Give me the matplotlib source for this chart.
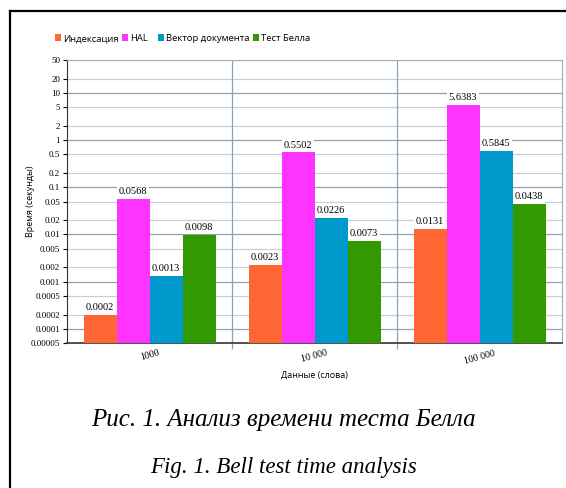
import numpy as np
import matplotlib.pyplot as plt

# data
groups = ['1000', '10 000', '100 000']
series = ['Индексация', 'HAL', 'Вектор документа', 'Тест Белла']
indexing = [0.0002, 0.0023, 0.0131]
hal = [0.0568, 0.5502, 5.6383]
doc_vector = [0.0013, 0.0226, 0.5845]
bell_test = [0.0098, 0.0073, 0.0438]
values = [indexing, hal, doc_vector, bell_test]
colors = ['#ff6633', '#ff33ff', '#0099cc', '#339900']
yticks = [0.00005, 0.0001, 0.0002, 0.0005, 0.001, 0.002, 0.005, 0.01, 0.02, 0.05,
          0.1, 0.2, 0.5, 1, 2, 5, 10, 20, 50]
ytick_labels = ['0.00005', '0.0001', '0.0002', '0.0005', '0.001', '0.002', '0.005',
                '0.01', '0.02', '0.05', '0.1', '0.2', '0.5', '1', '2', '5', '10', '20', '50']

sans = 'Open Sans'
serif = 'Liberation Serif'

fig = plt.figure(figsize=(5.66, 4.88), dpi=100)
ax = fig.add_axes([67/566, 1-343/488, 495/566, 283/488])

ymin = 0.00005
n = len(series)
w = 0.2
x = np.arange(len(groups))
bars = []
for i in range(n):
    pos = x - 0.4 + w*(i + 0.5)
    vals = np.array(values[i])
    b = ax.bar(pos, vals - ymin, bottom=ymin, width=w, color=colors[i], zorder=3,
               label=series[i])
    bars.append(b)
    for px, v in zip(pos, vals):
        ax.annotate(f'{v:.4f}', (px, v), xytext=(0, 2), textcoords='offset points',
                    ha='center', va='bottom', fontsize=7.5, family=serif, zorder=4,
                    bbox=dict(boxstyle='square,pad=0.15', fc='white', ec='none'))

ax.set_yscale('log')
ax.set_ylim(ymin, 50)
ax.set_xlim(-0.5, len(groups) - 0.5)
ax.set_yticks(yticks)
ax.set_yticklabels(ytick_labels, family=serif, fontsize=6.5)
ax.yaxis.set_minor_locator(plt.NullLocator())
for t in yticks:
    dec = abs(np.log10(t) - round(np.log10(t))) < 1e-6
    ax.axhline(t, color='#8fa0b8' if dec else '#c3d0e0', lw=0.9, zorder=1)
for bnd in [0.5, 1.5]:
    ax.axvline(bnd, color='#8fa0b8', lw=0.9, zorder=1)

ax.set_xticks(x)
ax.set_xticklabels(groups, rotation=15, family=serif, fontsize=7)
ax.set_xticks([0.5, 1.5], minor=True)
ax.tick_params(axis='x', which='major', length=0, pad=4)
ax.tick_params(axis='x', which='minor', length=4, color='#8fa0b8', width=0.9)
ax.tick_params(axis='y', length=3, width=0.8, pad=2)
ax.set_xlabel('Данные (слова)', family=sans, fontsize=6.5, labelpad=4)
ax.set_ylabel('Время (секунды)', family=sans, fontsize=6.5)
ax.yaxis.set_label_coords((35 - 67)/495, 0.5)

ax.spines['left'].set_color('#333333')
ax.spines['bottom'].set_color('#333333')
ax.spines['bottom'].set_linewidth(1.2)
ax.spines['top'].set_color('#aaaaaa')
ax.spines['right'].set_color('#aaaaaa')

leg_kw = dict(loc='upper left', ncol=2, frameon=False, prop={'family': sans, 'size': 6.8},
              handlelength=0.6, handleheight=0.8, columnspacing=0.3, handletextpad=0.3,
              borderaxespad=0, borderpad=0)
leg1 = fig.legend(bars[:2], series[:2], bbox_to_anchor=(55/566, 1-34/488), **leg_kw)
leg2 = fig.legend(bars[2:], series[2:], bbox_to_anchor=(158/566, 1-34/488), **leg_kw)

# document frame
fig.add_artist(plt.Line2D([10/566, 10/566], [0, 1-11/488], color='black', lw=1.6,
                          transform=fig.transFigure))
fig.add_artist(plt.Line2D([10/566, 1], [1-11/488, 1-11/488], color='black', lw=1.6,
                          transform=fig.transFigure))

fig.text(0.5, 1-420/488, 'Рис. 1. Анализ времени теста Белла', ha='center', va='center',
         family=serif, style='italic', fontsize=18)
fig.text(0.5, 1-467/488, 'Fig. 1. Bell test time analysis', ha='center', va='center',
         family=serif, style='italic', fontsize=16.5)

fig.savefig('out.png', dpi=100)
